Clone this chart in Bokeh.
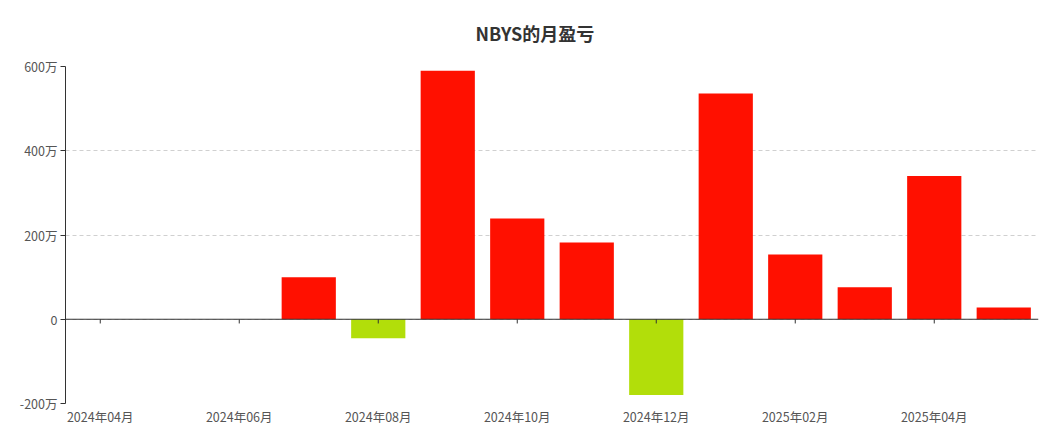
from bokeh.plotting import figure
from bokeh.models import ColumnDataSource, FixedTicker, Span, Title
from bokeh.embed import file_html
from bokeh.resources import INLINE

months = ["2024年04月", "2024年05月", "2024年06月", "2024年07月", "2024年08月", "2024年09月",
          "2024年10月", "2024年11月", "2024年12月", "2025年01月", "2025年02月", "2025年03月",
          "2025年04月", "2025年05月"]
pnl = [0, 0, 0, 100, -45, 590, 239, 182, -180, 536, 154, 76, 340, 28]  # 万
y_ticks = [-200, 0, 200, 400, 600]
y_labels = ["-200万", "0", "200万", "400万", "600万"]

RED = "#FF1000"
GREEN = "#B2DE0A"
FONT = "Noto Sans CJK SC"

idx = list(range(len(months)))
colors = [RED if v >= 0 else GREEN for v in pnl]
src = ColumnDataSource(dict(x=idx, top=pnl, color=colors))

p = figure(width=1046, height=428, output_backend="svg", toolbar_location=None,
           x_range=(-0.5, len(months) - 0.5), y_range=(-200, 600),
           min_border_left=65, min_border_right=8, min_border_top=65, min_border_bottom=20)
p.outline_line_color = None
p.background_fill_color = "white"

t = Title(text="NBYS的月盈亏", align="left", vertical_align="top", text_font=FONT,
          text_font_size="18px", text_font_style="bold", text_color="#333333",
          standoff=38, offset=410)
p.title = t

p.vbar(x="x", top="top", bottom=0, width=0.78, fill_color="color", line_color=None, source=src)

# zero line
p.add_layout(Span(location=0, dimension="width", line_color="#333333", line_width=1))

# x axis
xt = idx[::2]
p.xaxis.ticker = FixedTicker(ticks=xt)
p.xaxis.major_label_overrides = {i: months[i] for i in xt}
p.xaxis.axis_line_color = None
p.xaxis.major_tick_line_color = None
p.xaxis.major_tick_out = 0
p.xaxis.major_tick_in = 0
p.xaxis.minor_tick_line_color = None
p.xaxis.major_label_standoff = 3
p.xaxis.major_label_text_font = FONT
p.xaxis.major_label_text_font_size = "12.5px"
p.xaxis.major_label_text_color = "#555555"
p.xgrid.grid_line_color = None

# small tick marks on the zero line
p.segment(x0=xt, x1=xt, y0=[0] * len(xt), y1=[-10] * len(xt), line_color="#333333", line_width=1)

# y axis
p.yaxis.ticker = FixedTicker(ticks=y_ticks)
p.yaxis.major_label_overrides = dict(zip(y_ticks, y_labels))
p.yaxis.axis_line_color = "#333333"
p.yaxis.major_tick_line_color = "#333333"
p.yaxis.major_tick_in = 0
p.yaxis.major_tick_out = 5
p.yaxis.minor_tick_line_color = None
p.yaxis.major_label_text_font = FONT
p.yaxis.major_label_text_font_size = "12.5px"
p.yaxis.major_label_text_color = "#555555"
p.yaxis.major_label_standoff = 3
p.ygrid.grid_line_color = "#d0d0d0"
p.ygrid.grid_line_dash = "4 3"

open("out.html", "w").write(file_html(p, INLINE))
